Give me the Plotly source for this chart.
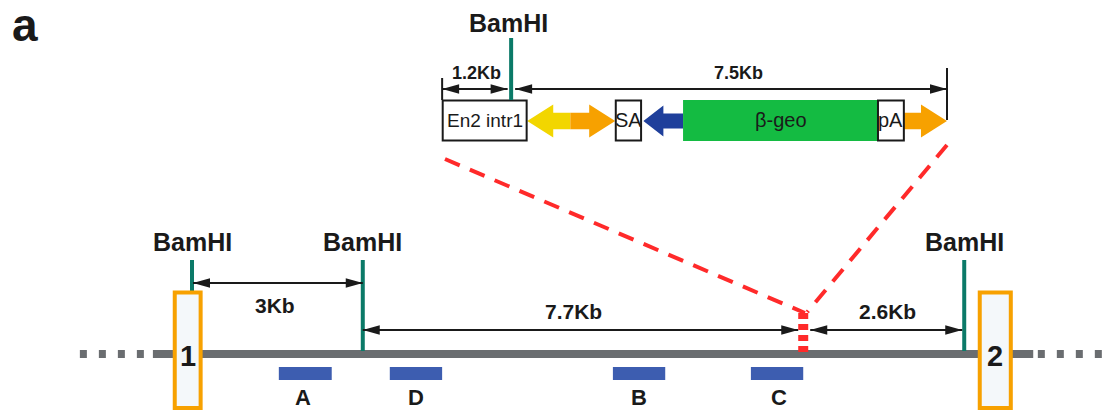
import plotly.graph_objects as go

# ---------------- data (positions in kb) ----------------
PX_PER_KB = 57.5          # drawing scale of the schematic
ORIGIN_PX = 192           # first genomic BamHI site sits at 0 kb
KB = 1.0 / PX_PER_KB      # kb per screen pixel (for fixed-size glyphs)

# genomic locus
locus_solid_kb = [-0.68, 14.63]
locus_dotted_left_kb = [-1.95, -0.80]
locus_dotted_right_kb = [14.71, 15.83]
bamhi_genomic_kb = [0.0, 2.97, 13.43]
insertion_kb = 10.63
exon_labels = ["1", "2"]
exon_start_kb = [-0.30, 13.70]
exon_end_kb = [0.15, 14.24]
probe_labels = ["A", "D", "B", "C"]
probe_start_kb = [1.51, 3.44, 7.32, 9.72]
probe_end_kb = [2.43, 4.35, 8.23, 10.63]
probe_label_kb = [1.93, 3.90, 7.78, 10.20]
dist_labels = ["3Kb", "7.7Kb", "2.6Kb"]
dist_from_kb = [0.0, 2.97, 10.63]
dist_to_kb = [2.97, 10.63, 13.43]
dist_label_kb = [1.44, 6.63, 12.10]

# gene-trap cassette (drawn on the same scale)
cassette_start_kb = 4.35
cassette_end_kb = 13.13
cassette_bamhi_kb = 5.55
cassette_box_labels = ["En2 intr1", "SA", "β-geo", "pA"]
cassette_box_start_kb = [4.36, 7.37, 8.54, 11.93]
cassette_box_end_kb = [5.82, 7.81, 11.93, 12.38]
cassette_arrow_names = ["yellow", "orange", "blue", "orange2"]
cassette_arrow_tail_kb = [6.58, 6.58, 8.54, 12.38]
cassette_arrow_tip_kb = [5.83, 7.36, 7.85, 13.13]
cassette_dist_labels = ["1.2Kb", "7.5Kb"]
cassette_dist_label_kb = [4.95, 9.50]

# ---------------- styles ----------------
FONT = "Liberation Sans, Arial, Helvetica, sans-serif"
NARROW = "Liberation Sans Narrow, Arial Narrow, Liberation Sans, Arial, sans-serif"
BLACK = "#1a1a1a"
TEAL = "#0b7a68"
GRAY = "#6a6d70"
PROBE = "#3d5db0"
ORANGE = "#f7a100"
YELLOW = "#f2d600"
NAVY = "#1f3f9b"
GREEN = "#14bb42"
RED = "#ff2a2a"
EXON_FILL = "#f4f8fa"
arrow_colors = {"yellow": YELLOW, "orange": ORANGE, "blue": NAVY, "orange2": ORANGE}

shapes = []
annotations = []


def line(x0, y0, x1, y1, color, width, dash=None):
    d = dict(type="line", xref="x", yref="y", x0=x0, y0=y0, x1=x1, y1=y1,
             line=dict(color=color, width=width))
    if dash:
        d["line"]["dash"] = dash
    shapes.append(d)


def rect(x0, y0, x1, y1, fill, color=None, width=0):
    shapes.append(dict(type="rect", xref="x", yref="y", x0=x0, y0=y0, x1=x1, y1=y1,
                       fillcolor=fill,
                       line=dict(color=color if color else fill, width=width)))


def path(points, fill):
    p = "M " + " L ".join(f"{x},{y}" for x, y in points) + " Z"
    shapes.append(dict(type="path", xref="x", yref="y", path=p,
                       fillcolor=fill, line=dict(width=0)))


def head(x_tip, y, direction, length=17, half=4.8):
    L = length * KB * direction
    path([(x_tip, y), (x_tip - L, y - half), (x_tip - L, y + half)], BLACK)


def dim_arrow(x0, x1, y, left_head=True, right_head=True):
    line(x0, y, x1, y, BLACK, 2)
    if left_head:
        head(x0, y, -1)
    if right_head:
        head(x1, y, 1)


def block_arrow(x_tail, x_tip, y, head_len, head_half, shaft_half, fill):
    d = 1 if x_tip > x_tail else -1
    xb = x_tip - d * head_len * KB
    path([(x_tail, y - shaft_half), (xb, y - shaft_half), (xb, y - head_half),
          (x_tip, y), (xb, y + head_half), (xb, y + shaft_half),
          (x_tail, y + shaft_half)], fill)


def text(x, y, s, size, bold=True, family=FONT, color=BLACK):
    annotations.append(dict(x=x, y=y, xref="x", yref="y", text=f"<b>{s}</b>" if bold else s,
                            showarrow=False, xanchor="center", yanchor="middle",
                            font=dict(family=family, size=size, color=color)))


# ---------------- genomic locus ----------------
LOCUS_Y = 354
line(locus_solid_kb[0], LOCUS_Y, locus_solid_kb[1], LOCUS_Y, GRAY, 8)
line(locus_dotted_left_kb[0], LOCUS_Y, locus_dotted_left_kb[1], LOCUS_Y, GRAY, 8, "7px,12px")
line(locus_dotted_right_kb[0], LOCUS_Y, locus_dotted_right_kb[1], LOCUS_Y, GRAY, 8, "7px,12px")

# BamHI sites
for xk in bamhi_genomic_kb:
    in_exon = any(s - 0.2 <= xk <= e + 0.2 for s, e in zip(exon_start_kb, exon_end_kb))
    line(xk, 260, xk, 291 if in_exon else 351, TEAL, 4)
    text(xk, 242, "BamHI", 25)

# exons
for lab, s, e in zip(exon_labels, exon_start_kb, exon_end_kb):
    rect(s, 292.5, e, 408, EXON_FILL, ORANGE, 4)
    text((s + e) / 2, 356, lab, 29)

# probes
for lab, s, e, lx in zip(probe_labels, probe_start_kb, probe_end_kb, probe_label_kb):
    rect(s, 367, e, 380, PROBE)
    text(lx, 397, lab, 22)

# distances
dist_y = [283, 330, 330]
tip_pad = [(1, 0), (0, -5), (7, -2)]
for lab, a, b, lx, y, (pa, pb) in zip(dist_labels, dist_from_kb, dist_to_kb,
                                      dist_label_kb, dist_y, tip_pad):
    dim_arrow(a + pa * KB, b + pb * KB, y)
    text(lx, y - 19 if y > 300 else y + 22, lab, 21)

# insertion site
line(insertion_kb, 313, insertion_kb, 355, RED, 10, "6px,5px")

# guide lines from cassette to insertion
line(cassette_start_kb + 0.05, 159, insertion_kb + 0.03, 313, RED, 4, "16px,11px")
line(cassette_end_kb, 145, insertion_kb + 0.07, 312, RED, 4, "16px,11px")

# ---------------- cassette ----------------
BOX_Y0, BOX_Y1, CY = 100.5, 140.5, 121
for name, tail, tip in zip(cassette_arrow_names, cassette_arrow_tail_kb, cassette_arrow_tip_kb):
    if name == "blue":
        block_arrow(tail, tip, CY, 20, 15.5, 7.5, arrow_colors[name])
    else:
        block_arrow(tail, tip, CY, 26, 16.5, 8.3, arrow_colors[name])

for lab, s, e in zip(cassette_box_labels, cassette_box_start_kb, cassette_box_end_kb):
    if lab == "β-geo":
        rect(s, BOX_Y0 - 0.5, e, BOX_Y1 + 0.5, GREEN)
        text((s + e) / 2, 120, lab, 20, bold=False, family=FONT)
    else:
        rect(s, BOX_Y0, e, BOX_Y1, "white", BLACK, 2)
        text((s + e) / 2, 120, lab, 19 if lab == "En2 intr1" else 20, bold=False, family=NARROW)

# cassette BamHI
line(cassette_bamhi_kb, 38, cassette_bamhi_kb, 100, TEAL, 4)
text(cassette_bamhi_kb - 0.04, 23, "BamHI", 25)

# cassette ticks and distances
line(cassette_start_kb, 78, cassette_start_kb, 100, BLACK, 2)
line(cassette_end_kb, 68, cassette_end_kb, 120, BLACK, 2)
dim_arrow(cassette_start_kb, cassette_bamhi_kb - 3.5 * KB, 89)
dim_arrow(cassette_bamhi_kb + 4 * KB, cassette_end_kb, 89)
for lab, lx in zip(cassette_dist_labels, cassette_dist_label_kb):
    text(lx, 73, lab, 18)

# panel letter
annotations.append(dict(x=-ORIGIN_PX / PX_PER_KB, y=25, xref="x", yref="y", text="<b>a</b>",
                        showarrow=False, xanchor="left", yanchor="middle", xshift=10,
                        font=dict(family=FONT, size=46, color=BLACK)))

fig = go.Figure()
fig.update_layout(
    width=1102, height=413,
    margin=dict(l=0, r=0, t=0, b=0),
    paper_bgcolor="white", plot_bgcolor="white",
    xaxis=dict(range=[-ORIGIN_PX / PX_PER_KB, (1102 - ORIGIN_PX) / PX_PER_KB],
               visible=False, fixedrange=True),
    yaxis=dict(range=[413, 0], visible=False, fixedrange=True),
    shapes=shapes, annotations=annotations, showlegend=False,
)
fig.write_html("out.html")
